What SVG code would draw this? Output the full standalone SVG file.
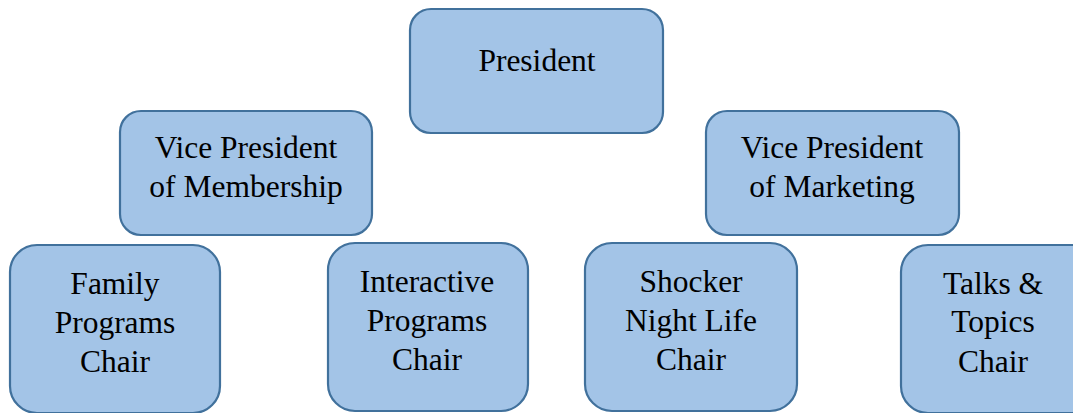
<svg xmlns="http://www.w3.org/2000/svg" width="1073" height="413" viewBox="0 0 1073 413">
<style>
.box{fill:#a3c4e7;stroke:#41719c;stroke-width:2.2}
.t{font-family:"Liberation Serif","Times New Roman",serif;font-size:31.5px;fill:#000;text-anchor:middle}
</style>
<rect width="1073" height="413" fill="#ffffff"/>
<g id="connectors"></g>
<g id="president">
<rect class="box" x="410" y="9" width="253" height="124" rx="21"/>
<text class="t" x="537" y="71">President</text>
</g>
<g id="vp-membership">
<rect class="box" x="120" y="111" width="252" height="124" rx="21"/>
<text class="t" x="246" y="158">Vice President</text>
<text class="t" x="246" y="197">of Membership</text>
</g>
<g id="vp-marketing">
<rect class="box" x="706" y="111" width="253" height="124" rx="21"/>
<text class="t" x="832" y="158">Vice President</text>
<text class="t" x="832" y="197">of Marketing</text>
</g>
<g id="family-programs">
<rect class="box" x="10" y="245" width="210" height="168" rx="27"/>
<text class="t" x="115" y="294">Family</text>
<text class="t" x="115" y="333">Programs</text>
<text class="t" x="115" y="372">Chair</text>
</g>
<g id="interactive-programs">
<rect class="box" x="328" y="243" width="200" height="168" rx="27"/>
<text class="t" x="427" y="292">Interactive</text>
<text class="t" x="427" y="331">Programs</text>
<text class="t" x="427" y="369.5">Chair</text>
</g>
<g id="shocker-night-life">
<rect class="box" x="585" y="243" width="212" height="168" rx="27"/>
<text class="t" x="691" y="292">Shocker</text>
<text class="t" x="691" y="331">Night Life</text>
<text class="t" x="691" y="369.5">Chair</text>
</g>
<g id="talks-topics">
<rect class="box" x="901" y="245" width="200" height="168" rx="27"/>
<text class="t" x="993" y="294">Talks &amp;</text>
<text class="t" x="993" y="332">Topics</text>
<text class="t" x="993" y="371.5">Chair</text>
</g>
</svg>
